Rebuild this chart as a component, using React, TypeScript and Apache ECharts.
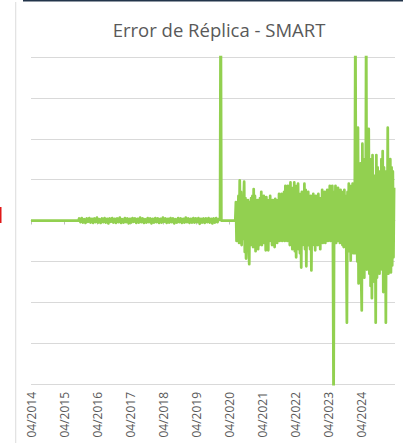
import React, { useEffect, useRef } from "react";
import * as echarts from "echarts";

const TITLE = "Error de Réplica - SMART";
const AXIS_START = "2014-04-01";
const AXIS_END = "2025-04-01";
const tickYears = [2014, 2015, 2016, 2017, 2018, 2019, 2020, 2021, 2022, 2023, 2024];

// Segment 1: quiet start
const flatDates = ["2014-04-01", "2015-09-08"];
const flatValues = [0, 0];

// Segment 2: small noise, every 14 days
const smallNoiseStart = "2015-09-15";
const smallNoiseStepDays = 14;
const smallNoise = [
  0.05, -0.04, 0.06, -0.05, 0.03, -0.06, 0.05, -0.03, 0.06, -0.05,
  0.04, -0.06, 0.05, -0.04, 0.07, -0.05, 0.03, -0.06, 0.05, -0.04,
  0.06, -0.05, 0.04, -0.07, 0.05, -0.03, 0.06, -0.05, 0.04, -0.06,
  0.05, -0.04, 0.07, -0.06, 0.03, -0.05, 0.06, -0.04, 0.05, -0.07,
  0.04, -0.05, 0.06, -0.03, 0.05, -0.06, 0.04, -0.05, 0.07, -0.04,
  0.05, -0.06, 0.03, -0.05, 0.06, -0.04, 0.05, -0.07, 0.04, -0.05,
  0.06, -0.04, 0.05, -0.06, 0.04, -0.05, 0.07, -0.03, 0.05, -0.06,
  0.04, -0.05, 0.06, -0.04, 0.05, -0.07, 0.03, -0.05, 0.06, -0.04,
  0.05, -0.06, 0.04, -0.05, 0.07, -0.04, 0.05, -0.06, 0.04, -0.05,
  0.06, -0.05, 0.05, -0.04, 0.06, -0.08, 0.04, -0.05, 0.05, -0.06,
  0.05, -0.04, 0.06, -0.05, 0.04, -0.07, 0.05, -0.05, 0.06, -0.04, 0.03,
];

// Segment 3: the late-2019 spike and calm until mid-2020
const spikeDates = ["2019-12-18", "2019-12-25", "2020-01-01", "2020-06-03"];
const spikeValues = [0.02, 6, 0, 0];

// Segment 4: medium noise, weekly
const mediumStart = "2020-06-10";
const mediumStepDays = 7;
const mediumNoise = [
  0.45, -0.5, 0.3, -0.4, 0.6, -0.55, 0.98, -0.3, 0.7, -0.6,
  0.5, -0.45, 0.4, 0.95, -0.77, 0.55, -0.93, 0.35, -0.6, 0.5,
  -0.5, -1.07, 0.45, -0.6, 0.55, -0.4, 0.6, -0.65, 0.77, -0.5,
  0.6, -0.75, 0.45, -0.55, 0.5, -0.7, 0.35, -0.6, 0.55, -0.45,
  0.7, -0.6, 0.45, -0.5, 0.6, -0.55, 0.4, -0.73, 0.57, -0.4,
  0.5, -0.73, 0.35, -0.5, 0.6, -0.45, 0.4, -0.6, 0.5, -0.35,
  0.45, -0.65, 0.53, -0.4, 0.35, -0.55, 0.5, -0.45, 0.65, -0.5,
  0.55, -0.45, 0.65, -0.5, 0.4, -0.35, 0.7, -0.5, 0.85, -0.45,
  0.6, -0.5, 0.85, -0.4, 0.5, -0.6, 0.93, -0.55, 0.7, -0.7,
  0.8, -0.6, 0.93, -0.75, 0.6, -0.9, 0.85, -0.5, 0.9, -0.7,
  0.65, -0.8, 0.5, -1.15, 0.7, -0.6, 0.55, -0.5, 0.9, -0.7,
  0.75, -1.12, 0.6, -0.55, 0.7, -0.6, 0.5, -0.7, 0.6, -1.22,
  0.55, -0.6, 0.65, -0.5, 0.45, -0.73, 0.6, -0.45, 0.5, -0.6,
  0.65, -0.5, 0.4, -0.7, 0.55, -0.45, 0.75, -0.55, 0.6, -0.4,
  0.7, -0.55, 0.5, -0.45, 0.75, -0.5, 0.6, -0.4, 0.85, -0.5,
  0.6, -0.45, 0.85, -0.5, -4.5, 0.7, -0.5, 0.85, -0.55, 0.6,
  -0.5, 0.8, -0.45, 0.6, -0.55, 0.75, -0.5, 0.5, -0.6, 0.7,
  -0.65, 0.75, -0.5, 0.6, -0.55, -2.5, 0.7, -0.6, 0.9, -0.75,
  0.85, -0.98, 0.6, -0.7, 0.9, -0.8, 0.6, -0.8,
];

// Segment 5: large noise, weekly
const bigStart = "2024-01-13";
const bigStepDays = 7;
const bigNoise = [
  0.6, 5, -0.8, 1.2, -1.0, 2.27, -1.54, 1.1, -0.9, 1.4,
  -1.3, -2.2, 1.88, -1.1, 1.5, -1.4, 1.3, -0.9, 5, -1.2,
  1.6, -0.8, 2.24, -1.3, 1.5, -1.6, 1.4, -1.9, 1.6, -1.2,
  1.1, -1.5, 0.9, -2.5, 1.6, -1.4, 1.3, -1.1, 1.1, -1.3,
  1.2, -0.9, 1.5, -1.2, 1.7, -1.75, 1.3, -1.0, 1.0, -2.5,
  1.2, -1.1, 2.27, -1.3, 1.4, -1.0, 1.5, -1.27, 1.3, -1.1,
  1.2, -0.9, 0.8,
];

const DAY = 86400000;
const ts = (s: string) => {
  const [y, m, d] = s.split("-").map(Number);
  return Date.UTC(y, m - 1, d);
};
const segment = (start: string, step: number, vals: number[]) =>
  vals.map((v, i) => [ts(start) + i * step * DAY, v]);

const seriesData = [
  ...flatDates.map((d, i) => [ts(d), flatValues[i]]),
  ...segment(smallNoiseStart, smallNoiseStepDays, smallNoise),
  ...spikeDates.map((d, i) => [ts(d), spikeValues[i]]),
  ...segment(mediumStart, mediumStepDays, mediumNoise),
  ...segment(bigStart, bigStepDays, bigNoise),
];

const tickValues = tickYears.map((y) => Date.UTC(y, 3, 1));
const fmt = (v: number) => {
  const d = new Date(v);
  const m = d.getUTCMonth() + 1;
  return (m < 10 ? "0" + m : "" + m) + "/" + d.getUTCFullYear();
};

const FONT = "'Open Sans', 'Noto Sans', sans-serif";

export default function App() {
  const ref = useRef<HTMLDivElement>(null);
  useEffect(() => {
    if (!ref.current) return;
    const chart = echarts.init(ref.current, undefined, { renderer: "svg" });
    chart.setOption({
      animation: false,
      backgroundColor: "#ffffff",
      title: {
        text: TITLE,
        left: 214,
        top: 15,
        textAlign: "center",
        textStyle: { color: "#595959", fontSize: 18.5, fontWeight: "normal", fontFamily: FONT },
      },
      grid: { left: 31, right: 8, top: 57, bottom: 59, containLabel: false },
      xAxis: [
        {
          type: "value",
          position: "bottom",
          min: ts(AXIS_START),
          max: ts(AXIS_END),
          axisLine: { show: false, onZero: false },
          axisTick: { show: false },
          splitLine: { show: false },
          axisLabel: {
            customValues: tickValues,
            rotate: 90,
            margin: 8,
            color: "#595959",
            fontSize: 12,
            fontFamily: FONT,
            formatter: (v: number) => fmt(v),
            hideOverlap: false,
          },
        },
        {
          type: "value",
          position: "top",
          min: ts(AXIS_START),
          max: ts(AXIS_END),
          axisLine: { show: true, onZero: true, lineStyle: { color: "#d9d9d9", width: 1 } },
          axisTick: { show: true, inside: true, length: 4, customValues: tickValues, lineStyle: { color: "#bfbfbf" } },
          axisLabel: { show: false },
          splitLine: { show: false },
        },
      ],
      yAxis: {
        type: "value",
        min: -4,
        max: 4,
        interval: 1,
        axisLabel: { show: false },
        axisLine: { show: false },
        axisTick: { show: false },
        splitLine: { show: true, lineStyle: { color: "#d9d9d9", width: 1 } },
      },
      series: [
        {
          type: "line",
          xAxisIndex: 0,
          data: seriesData,
          showSymbol: false,
          clip: true,
          lineStyle: { color: "#92d050", width: 2.75, join: "round" },
          itemStyle: { color: "#92d050" },
        },
      ],
      graphic: [
        { type: "rect", left: 23, top: 0, shape: { width: 380, height: 1.5 }, style: { fill: "#22344a" }, silent: true },
        { type: "rect", left: 15, top: 2, shape: { width: 1.3, height: 441 }, style: { fill: "#e3e3e3" }, silent: true },
        { type: "rect", left: 0, top: 207, shape: { width: 1.5, height: 16 }, style: { fill: "#e01818" }, silent: true },
      ],
    });
    return () => chart.dispose();
  }, []);
  return (
    <div
      ref={ref}
      style={{ position: "fixed", left: 0, top: 0, width: 403, height: 443 }}
    />
  );
}
